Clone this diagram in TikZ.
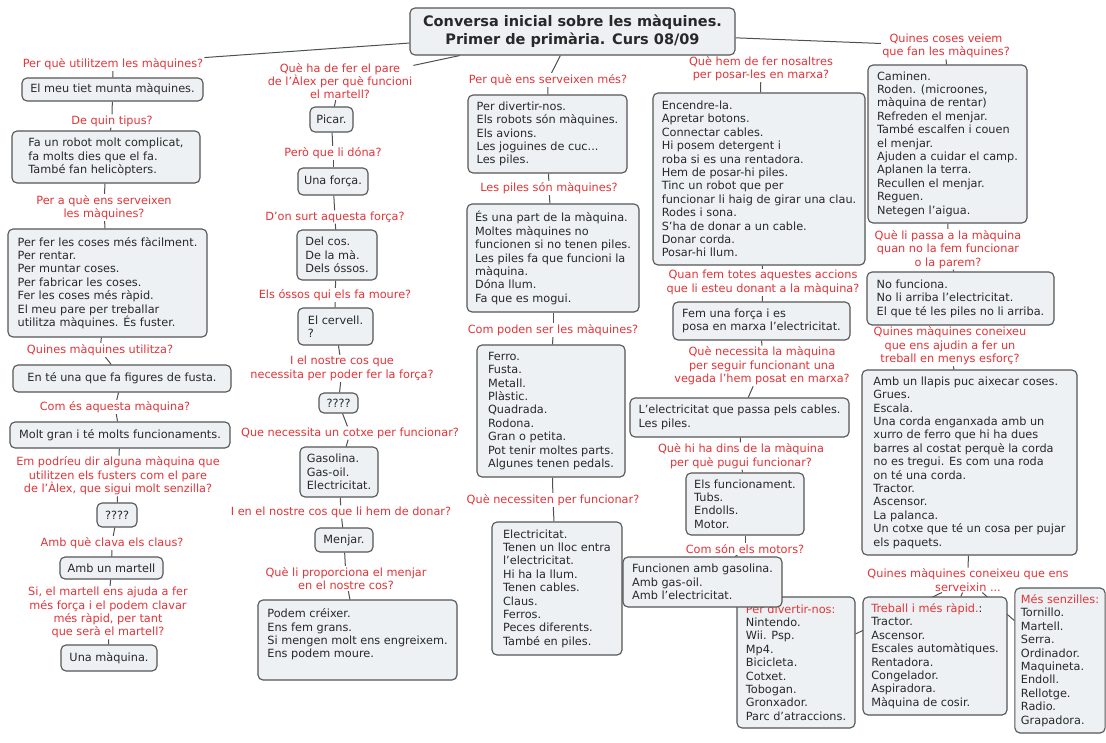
\documentclass[tikz,border=0pt]{standalone}
\usepackage{fontspec}
\setmainfont{DejaVu Sans}
\definecolor{boxfill}{RGB}{237,241,243}
\definecolor{boxline}{RGB}{85,85,85}
\definecolor{lblred}{RGB}{226,52,56}
\definecolor{txtcol}{RGB}{40,40,40}
\definecolor{linecol}{RGB}{80,80,80}
\newcommand\mytxt{\fontsize{11.3}{13.4}\selectfont}
\newcommand\mytitle{\fontsize{14.5}{17.7}\selectfont\bfseries}
\pgfdeclarelayer{bg}
\pgfsetlayers{bg,main}
\tikzset{
  bx/.style={draw=boxline, fill=boxfill, rounded corners=5pt, line width=1.1pt,
    align=left, inner xsep=6pt, inner ysep=3pt, font=\mytxt, text=txtcol},
  bxs/.style 2 args={bx, minimum width=#1, minimum height=#2},
  lb/.style={fill=white, inner sep=1pt, align=center, font=\mytxt, text=lblred},
  cn/.style={draw=linecol, line width=1pt}
}
\begin{document}
\begin{tikzpicture}[x=1pt,y=-1pt]
\useasboundingbox (0,0) rectangle (1106,742);

% ---------- labels ----------
\node[lb] (L1a) at (113,64) {Per què utilitzem les màquines?};
\node[lb] (L1b) at (112,121) {De quin tipus?};
\node[lb] (L1c) at (104,207.5) {Per a què ens serveixen\\les màquines?};
\node[lb] (L1d) at (100,350) {Quines màquines utilitza?};
\node[lb] (L1e) at (115,407) {Com és aquesta màquina?};
\node[lb] (L1f) at (118,476) {Em podríeu dir alguna màquina que\\utilitzen els fusters com el pare\\de l'Àlex, que sigui molt senzilla?};
\node[lb] (L1g) at (112,543) {Amb què clava els claus?};
\node[lb] (L1h) at (108,612.7) {Si, el martell ens ajuda a fer\\més força i el podem clavar\\més ràpid, per tant\\que serà el martell?};

\node[lb] (L2a) at (340,81) {Què ha de fer el pare\\de l'Àlex per què funcioni\\el martell?};
\node[lb] (L2b) at (333,153) {Però que li dóna?};
\node[lb] (L2c) at (335,217) {D'on surt aquesta força?};
\node[lb] (L2d) at (335,295) {Els óssos qui els fa moure?};
\node[lb] (L2e) at (342,368.5) {I el nostre cos que\\necessita per poder fer la força?};
\node[lb] (L2f) at (350,433) {Que necessita un cotxe per funcionar?};
\node[lb] (L2g) at (341,512) {I en el nostre cos que li hem de donar?};
\node[lb] (L2h) at (346,578.5) {Què li proporciona el menjar\\en el nostre cos?};

\node[lb] (L3a) at (548,80) {Per què ens serveixen més?};
\node[lb] (L3b) at (549,188) {Les piles són màquines?};
\node[lb] (L3c) at (553,330) {Com poden ser les màquines?};
\node[lb] (L3d) at (553,500) {Què necessiten per funcionar?};

\node[lb] (L4a) at (761,68.5) {Què hem de fer nosaltres\\per posar-les en marxa?};
\node[lb] (L4b) at (763,282.5) {Quan fem totes aquestes accions\\que li esteu donant a la màquina?};
\node[lb] (L4c) at (762,366) {Què necessita la màquina\\per seguir funcionant una\\vegada l'hem posat en marxa?};
\node[lb] (L4d) at (741,456) {Què hi ha dins de la màquina\\per què pugui funcionar?};
\node[lb] (L4e) at (745,549) {Com són els motors?};

\node[lb] (L5a) at (946,46) {Quines coses veiem\\que fan les màquines?};
\node[lb] (L5b) at (948,249.3) {Què li passa a la màquina\\quan no la fem funcionar\\o la parem?};
\node[lb] (L5c) at (950,346) {Quines màquines coneixeu\\que ens ajudin a fer un\\treball en menys esforç?};
\node[lb] (L5d) at (968,580) {Quines màquines coneixeu que ens\\serveixin ...};

% ---------- boxes ----------
\node[bxs={181}{23}] (B1a) at (112.5,89.5) {El meu tiet munta màquines.};
\node[bxs={188}{52}] (B1b) at (106,157) {Fa un robot molt complicat,\\fa molts dies que el fa.\\També fan helicòpters.};
\node[bxs={199}{108}] (B1c) at (107.5,283) {Per fer les coses més fàcilment.\\Per rentar.\\Per muntar coses.\\Per fabricar les coses.\\Fer les coses més ràpid.\\El meu pare per treballar\\utilitza màquines. És fuster.};
\node[bxs={218}{27}] (B1d) at (122,378.5) {En té una que fa figures de fusta.};
\node[bxs={220}{26}] (B1e) at (120,435) {Molt gran i té molts funcionaments.};
\node[bxs={40}{24}] (B1f) at (117,515) {????};
\node[bxs={103}{22}] (B1g) at (111.5,568) {Amb un martell};
\node[bxs={96}{26}] (B1h) at (109,658) {Una màquina.};

\node[bxs={43}{25}] (B2a) at (331.5,119.5) {Picar.};
\node[bxs={70}{27}] (B2b) at (333,181.5) {Una força.};
\node[bxs={80}{50}] (B2c) at (337,255) {Del cos.\\De la mà.\\Dels óssos.};
\node[bxs={75}{37}] (B2d) at (335.5,326.5) {El cervell.\\?};
\node[bxs={39}{20}] (B2e) at (338.5,403) {????};
\node[bxs={78}{50}] (B2f) at (339,472) {Gasolina.\\Gas-oil.\\Electricitat.};
\node[bxs={58}{24}] (B2g) at (344,540) {Menjar.};
\node[bxs={199}{80}] (B2h) at (357.5,640) {Podem créixer.\\Ens fem grans.\\Si mengen molt ens engreixem.\\Ens podem moure.\\\mbox{}};

\node[bxs={159}{78}] (B3a) at (547.5,134) {Per divertir-nos.\\Els robots són màquines.\\Els avions.\\Les joguines de cuc...\\Les piles.};
\node[bxs={172}{108}] (B3b) at (553,258) {És una part de la màquina.\\Moltes màquines no\\funcionen si no tenen piles.\\Les piles fa que funcioni la\\màquina.\\Dóna llum.\\Fa que es mogui.};
\node[bxs={148}{132}] (B3c) at (551,411) {Ferro.\\Fusta.\\Metall.\\Plàstic.\\Quadrada.\\Rodona.\\Gran o petita.\\Pot tenir moltes parts.\\Algunes tenen pedals.};
\node[bxs={130}{133}] (B3d) at (557,588.5) {Electricitat.\\Tenen un lloc entra\\l'electricitat.\\Hi ha la llum.\\Tenen cables.\\Claus.\\Ferros.\\Peces diferents.\\També en piles.};

\node[bxs={212}{172}] (B4a) at (759,179) {Encendre-la.\\Apretar botons.\\Connectar cables.\\Hi posem detergent i\\roba si es una rentadora.\\Hem de posar-hi piles.\\Tinc un robot que per\\funcionar li haig de girar una clau.\\Rodes i sona.\\S'ha de donar a un cable.\\Donar corda.\\Posar-hi llum.};
\node[bxs={177}{38}] (B4b) at (761.5,321) {Fem una força i es\\posa en marxa l'electricitat.};
\node[bxs={219}{39}] (B4c) at (739.5,417.5) {L'electricitat que passa pels cables.\\Les piles.};
\node[bxs={118}{62}] (B4d) at (745,504) {Els funcionament.\\Tubs.\\Endolls.\\Motor.};
\node[bxs={118}{131}] (B4f) at (796,662.5) {{\color{lblred}Per divertir-nos:}\\Nintendo.\\Wii. Psp.\\Mp4.\\Bicicleta.\\Cotxet.\\Tobogan.\\Gronxador.\\Parc d'atraccions.};
\node[bxs={159}{50}] (B4e) at (702.5,582) {Funcionen amb gasolina.\\Amb gas-oil.\\Amb l'electricitat.};

\node[bxs={159}{158}] (B5a) at (947.5,144) {Caminen.\\Roden. (microones,\\màquina de rentar)\\Refreden el menjar.\\També escalfen i couen\\el menjar.\\Ajuden a cuidar el camp.\\Aplanen la terra.\\Recullen el menjar.\\Reguen.\\Netegen l'aigua.};
\node[bxs={187}{53}] (B5b) at (960.5,298.5) {No funciona.\\No li arriba l'electricitat.\\El que té les piles no li arriba.};
\node[bxs={215}{185}] (B5c) at (969.5,462.5) {Amb un llapis puc aixecar coses.\\Grues.\\Escala.\\Una corda enganxada amb un\\xurro de ferro que hi ha dues\\barres al costat perquè la corda\\no es tregui. Es com una roda\\on té una corda.\\Tractor.\\Ascensor.\\La palanca.\\Un cotxe que té un cosa per pujar\\els paquets.};
\node[bxs={144}{118}] (B5e) at (935,656) {{\color{lblred}Treball i més ràpid.}:\\Tractor.\\Ascensor.\\Escales automàtiques.\\Rentadora.\\Congelador.\\Aspiradora.\\Màquina de cosir.};
\node[bxs={90}{145}] (B5f) at (1060,660.5) {{\color{lblred}Més senzilles:}\\Tornillo.\\Martell.\\Serra.\\Ordinador.\\Maquineta.\\Endoll.\\Rellotge.\\Radio.\\Grapadora.};

% ---------- title ----------
\node[bxs={325}{47}, font=\mytitle, align=center] (T) at (572.5,31.5) {Conversa inicial sobre les màquines.\\Primer de primària. Curs 08/09};

% ---------- background and connectors ----------
\begin{pgfonlayer}{bg}
\fill[white] (0,0) rectangle (1106,742);
\draw[cn] (T) -- (L1a);
\draw[cn] (L1a) -- (B1a);
\draw[cn] (B1a) -- (L1b);
\draw[cn] (L1b) -- (B1b);
\draw[cn] (B1b) -- (L1c);
\draw[cn] (L1c) -- (B1c);
\draw[cn] (B1c) -- (L1d);
\draw[cn] (L1d) -- (B1d);
\draw[cn] (B1d) -- (L1e);
\draw[cn] (L1e) -- (B1e);
\draw[cn] (B1e) -- (L1f);
\draw[cn] (L1f) -- (B1f);
\draw[cn] (B1f) -- (L1g);
\draw[cn] (L1g) -- (B1g);
\draw[cn] (B1g) -- (L1h);
\draw[cn] (L1h) -- (B1h);
\draw[cn] (T) -- (L2a);
\draw[cn] (L2a) -- (B2a);
\draw[cn] (B2a) -- (L2b);
\draw[cn] (L2b) -- (B2b);
\draw[cn] (B2b) -- (L2c);
\draw[cn] (L2c) -- (B2c);
\draw[cn] (B2c) -- (L2d);
\draw[cn] (L2d) -- (B2d);
\draw[cn] (B2d) -- (L2e);
\draw[cn] (L2e) -- (B2e);
\draw[cn] (B2e) -- (L2f);
\draw[cn] (L2f) -- (B2f);
\draw[cn] (B2f) -- (L2g);
\draw[cn] (L2g) -- (B2g);
\draw[cn] (B2g) -- (L2h);
\draw[cn] (L2h) -- (B2h);
\draw[cn] (T) -- (L3a);
\draw[cn] (L3a) -- (B3a);
\draw[cn] (B3a) -- (L3b);
\draw[cn] (L3b) -- (B3b);
\draw[cn] (B3b) -- (L3c);
\draw[cn] (L3c) -- (B3c);
\draw[cn] (B3c) -- (L3d);
\draw[cn] (L3d) -- (B3d);
\draw[cn] (T) -- (L4a);
\draw[cn] (L4a) -- (B4a);
\draw[cn] (B4a) -- (L4b);
\draw[cn] (L4b) -- (B4b);
\draw[cn] (B4b) -- (L4c);
\draw[cn] (L4c) -- (B4c);
\draw[cn] (B4c) -- (L4d);
\draw[cn] (L4d) -- (B4d);
\draw[cn] (B4d) -- (L4e);
\draw[cn] (L4e) -- (B4e);
\draw[cn] (T) -- (L5a);
\draw[cn] (L5a) -- (B5a);
\draw[cn] (B5a) -- (L5b);
\draw[cn] (L5b) -- (B5b);
\draw[cn] (B5b) -- (L5c);
\draw[cn] (L5c) -- (B5c);
\draw[cn] (B5c) -- (L5d);
\draw[cn] (L5d) -- (B4f);
\draw[cn] (L5d) -- (B5e);
\draw[cn] (L5d) -- (B5f);
\end{pgfonlayer}
\end{tikzpicture}
\end{document}
